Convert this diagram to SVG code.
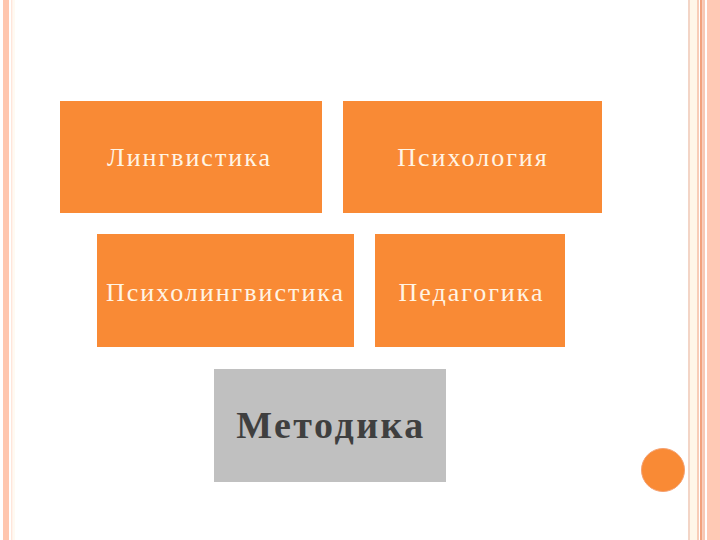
<svg xmlns="http://www.w3.org/2000/svg" width="720" height="540" viewBox="0 0 720 540">
<style>
.box{fill:#F98A35;}
.lbl{font-family:"Liberation Serif","DejaVu Serif",serif;font-size:26px;fill:#FFF4E4;text-anchor:middle;letter-spacing:2px;}
.main{font-family:"Liberation Serif","DejaVu Serif",serif;font-size:38px;font-weight:bold;fill:#3F3F3F;text-anchor:middle;letter-spacing:2.5px;}
</style>
<rect width="720" height="540" fill="#FFFFFF"/>
<g id="frame">
<rect x="3" y="0" width="6" height="540" fill="#FFC6AE"/>
<rect x="11" y="0" width="1.5" height="540" fill="#FFE6DA"/>
<rect x="13.5" y="0" width="1" height="540" fill="#FFF5E6"/>
<rect x="688" y="0" width="2" height="540" fill="#F3D5C6"/>
<rect x="690" y="0" width="7" height="540" fill="#FFF6E8"/>
<rect x="697" y="0" width="2" height="540" fill="#F8CDB8"/>
<rect x="700" y="0" width="2.5" height="540" fill="#F2A27E"/>
<rect x="703" y="0" width="2" height="540" fill="#F8C8B4"/>
<rect x="707" y="0" width="13" height="540" fill="#FFC9B5"/>
<circle cx="663" cy="470" r="21.5" fill="#F98A35" stroke="#F5A070" stroke-width="1"/>
</g>
<g id="n1"><rect class="box" x="60" y="101" width="262" height="112"/><text class="lbl" x="189.5" y="166">Лингвистика</text></g>
<g id="n2"><rect class="box" x="343" y="101" width="259" height="112"/><text class="lbl" x="473" y="166">Психология</text></g>
<g id="n3"><rect class="box" x="97" y="234" width="257" height="113"/><text class="lbl" x="225.5" y="301">Психолингвистика</text></g>
<g id="n4"><rect class="box" x="375" y="234" width="190" height="113"/><text class="lbl" x="471.5" y="301">Педагогика</text></g>
<g id="n5"><rect x="214" y="369" width="232" height="113" fill="#C0C0C0"/><text class="main" x="331" y="438">Методика</text></g>
<g id="connectors"></g>
</svg>
